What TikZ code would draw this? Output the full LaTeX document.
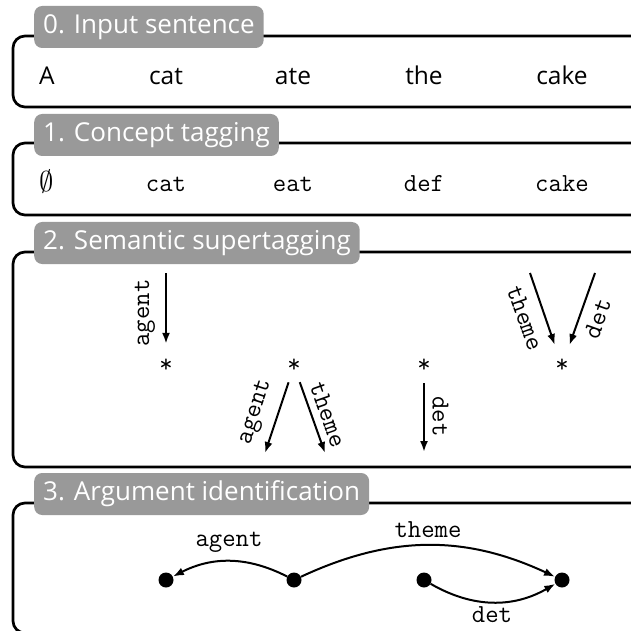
\documentclass[tikz,border=0pt]{standalone}
\usepackage{fontspec}
\newfontfamily\titlefont{Open Sans}
\usetikzlibrary{arrows.meta}
\definecolor{titlegray}{RGB}{153,153,153}
\begin{document}
\begin{tikzpicture}[x=1pt,y=1pt,
  frame/.style={line width=2.7pt, rounded corners=12pt},
  titlebox/.style={fill=titlegray, rounded corners=8pt, text=white,
    font=\titlefont\fontsize{26}{30}\selectfont, anchor=west,
    inner xsep=9pt, minimum height=42pt},
  word/.style={font=\titlefont\fontsize{24.5}{28}\selectfont, anchor=base},
  tag/.style={font=\ttfamily\fontsize{26}{30}\selectfont, anchor=base},
  lbl/.style={font=\ttfamily\fontsize{26}{30}\selectfont, inner sep=0pt},
  arr/.style={-{Latex[length=11pt,width=8pt]}, line width=2pt},
  star/.style={circle, minimum size=34pt, inner sep=0pt,
    font=\ttfamily\fontsize{26}{30}\selectfont},
  dot/.style={circle, fill=black, minimum size=15pt, inner sep=0pt},
]
\useasboundingbox (0,0) rectangle (631,630);

% ---------- panel frames ----------
\draw[frame] (650,594) -- (13,594) -- (13,523) -- (650,523);
\draw[frame] (650,487) -- (13,487) -- (13,415) -- (650,415);
\draw[frame] (650,378) -- (13,378) -- (13,163) -- (650,163);
\draw[frame] (650,127) -- (13,127) -- (13,-3) -- (650,-3);

% ---------- panel titles ----------
\node[titlebox] (t0) at (34,603) {0. Input sentence};
\node[titlebox] (t1) at (34,495) {1. Concept tagging};
\node[titlebox] (t2) at (34,387) {2. Semantic supertagging};
\node[titlebox] (t3) at (34,136) {3. Argument identification};

% ---------- 0. input sentence ----------
\node[word] (w1) at (47,545) {A};
\node[word] (w2) at (166,545) {cat};
\node[word] (w3) at (293,545) {ate};
\node[word] (w4) at (424,545) {the};
\node[word] (w5) at (562,545) {cake};

% ---------- 1. concept tagging ----------
\node[tag] (c1) at (47,438) {\scalebox{1.15}{$\emptyset$}};
\node[tag] (c2) at (166,438) {cat};
\node[tag] (c3) at (293,438) {eat};
\node[tag] (c4) at (424,438) {def};
\node[tag] (c5) at (562,438) {cake};

% ---------- 2. semantic supertagging ----------
\node[star] (s1) at (166,264) {*};
\node[star] (s2) at (294,264) {*};
\node[star] (s3) at (424,264) {*};
\node[star] (s4) at (562,264) {*};

\coordinate (s1in) at (166,357);
\coordinate (s2a) at (265,177);
\coordinate (s2t) at (325,177);
\coordinate (s3d) at (424,178);
\coordinate (s4t) at (530,357);
\coordinate (s4d) at (595,357);

\draw[arr, shorten >=5pt] (s1in) -- (s1);
\draw[arr] (s2) -- (s2a);
\draw[arr] (s2) -- (s2t);
\draw[arr] (s3) -- (s3d);
\draw[arr, shorten >=5pt] (s4t) -- (s4);
\draw[arr, shorten >=5pt] (s4d) -- (s4);

\node[lbl, rotate=90] (l1) at (145,317) {agent};
\node[lbl, rotate=72.2] (l2) at (256,218) {agent};
\node[lbl, rotate=-70.6] (l3) at (328,215.5) {theme};
\node[lbl, rotate=-90] (l4) at (440.5,213.5) {det};
\node[lbl, rotate=-70.3] (l5) at (525,312) {theme};
\node[lbl, rotate=70.3] (l6) at (597.5,311.5) {det};

% ---------- 3. argument identification ----------
\node[dot] (d1) at (166,50) {};
\node[dot] (d2) at (294,50) {};
\node[dot] (d3) at (424,50) {};
\node[dot] (d4) at (562,50) {};

\draw[arr] (d2) to[bend right=27] (d1);
\draw[arr] (d2) to[bend left=25] (d4);
\draw[arr] (d3) to[bend right=30] (d4);

\node[lbl] (g1) at (229,88) {agent};
\node[lbl] (g2) at (428,100) {theme};
\node[lbl] (g3) at (492,15) {det};
\end{tikzpicture}
\end{document}
